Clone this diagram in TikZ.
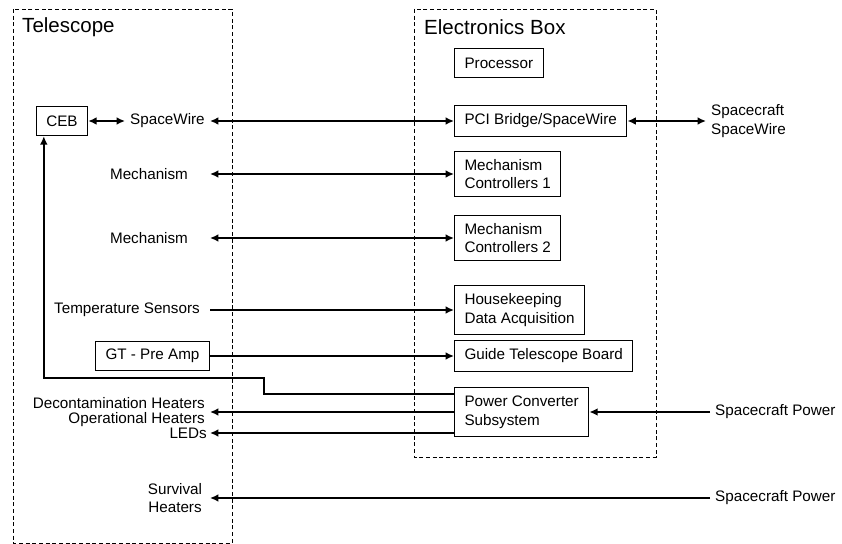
\documentclass[tikz,border=0pt]{standalone}
\usepackage{fontspec}
\setmainfont{Liberation Sans}
\usetikzlibrary{arrows.meta}

\tikzset{
  unit/.style={draw, line width=0.9pt, align=left, anchor=west, inner xsep=0.3cm, inner ysep=0.24cm, minimum height=0.88cm},
  lbl/.style={inner xsep=0.15cm, inner ysep=0.05cm},
  title/.style={anchor=west, inner sep=0pt, font=\fontsize{17.5}{21}\selectfont},
  group/.style={draw, line width=0.7pt, dash pattern=on 1.2mm off 0.8mm},
  wire/.style={line width=2pt, -{Latex[length=2.5mm,width=2.3mm]}},
  bus/.style={line width=2pt, {Latex[length=2.5mm,width=2.3mm]}-{Latex[length=2.5mm,width=2.3mm]}},
}

\begin{document}
\begin{tikzpicture}[x=0.03cm, y=-0.03cm, font=\fontsize{13}{16}\selectfont]
    \useasboundingbox (0,0) rectangle (842,544);

    % dashed groups
    \draw[group] (13,9) rectangle (232,543);
    \draw[group] (414,9) rectangle (656,457);
    \node[title] (teltitle) at (22,27) {Telescope};
    \node[title] (ebtitle) at (424,27) {Electronics Box};

    % electronics box units
    \node[unit] (proc) at (454,63) {Processor};
    \node[unit] (pci) at (454,121) {PCI Bridge/SpaceWire};
    \node[unit] (mcA) at (454,174) {Mechanism\\Controllers 1};
    \node[unit] (mcB) at (454,238) {Mechanism\\Controllers 2};
    \node[unit] (hk) at (454,310) {Housekeeping\\Data Acquisition};
    \node[unit] (gtb) at (454,356) {Guide Telescope Board};
    \node[unit] (pwr) at (454,412) {Power Converter\\Subsystem};

    % telescope side
    \node[unit, anchor=center] (ceb) at (62,121) {CEB};
    \node[unit, anchor=east] (gtpa) at (210,356) {GT - Pre Amp};
    \node[lbl, anchor=west] (spw) at (125,121) {SpaceWire};
    \node[lbl] (mechA) at (149,174) {Mechanism};
    \node[lbl] (mechB) at (149,238) {Mechanism};
    \node[lbl, anchor=east] (tsens) at (205,310) {Temperature Sensors};
    \node[lbl, anchor=east] (decon) at (210,403) {Decontamination Heaters};
    \node[lbl, anchor=east] (opheat) at (210,420) {Operational Heaters};
    \node[lbl, anchor=east] (leds) at (212,433) {LEDs};
    \node[lbl, align=center] (surv) at (175,498) {Survival\\Heaters};

    % spacecraft side
    \node[lbl, anchor=west, align=left] (scspw) at (706,121) {Spacecraft\\SpaceWire};
    \node[lbl, anchor=west] (scpowA) at (710,412) {Spacecraft Power};
    \node[lbl, anchor=west] (scpowB) at (710,498) {Spacecraft Power};

    % ports and bends
    \coordinate (tport) at (210,0);
    \coordinate (jog) at (264,378);
    \coordinate (cebin) at ([xshift=0.24cm]ceb.south west);

    % data links
    \draw[bus] (ceb) -- (spw);
    \draw[bus] (spw) -- (pci);
    \draw[bus] (pci) -- (scspw);
    \draw[bus] (mechA -| tport) -- (mcA);
    \draw[bus] (mechB -| tport) -- (mcB);
    \draw[wire] (tsens -| tport) -- (hk);
    \draw[wire] (gtpa) -- (gtb);

    % power
    \draw[wire] ([yshift=-0.21cm]pwr.north west) -| (jog) -| (cebin);
    \draw[wire] (pwr.west) -- (pwr.west -| tport);
    \draw[wire] (pwr.west |- leds) -- (leds -| tport);
    \draw[wire] (scpowA) -- (pwr);
    \draw[wire] (scpowB) -- (surv -| tport);

\end{tikzpicture}
\end{document}
